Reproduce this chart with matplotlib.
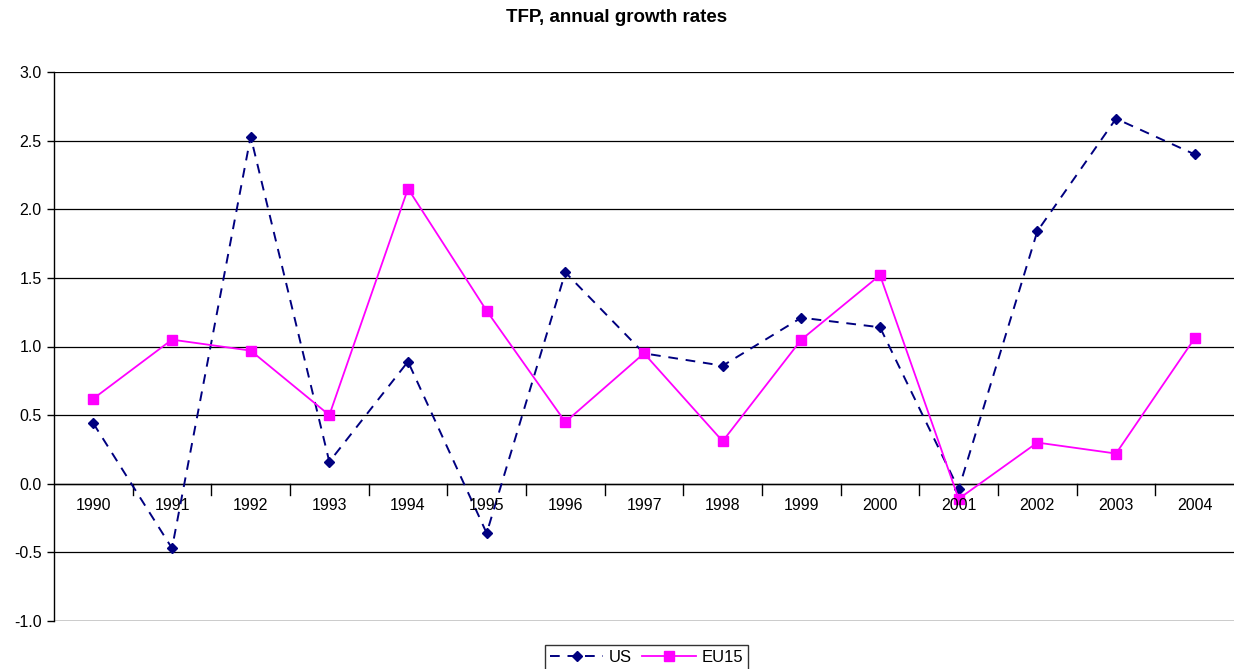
import matplotlib
matplotlib.use("Agg")
import matplotlib.pyplot as plt
import numpy as np

# Daten
years = ["1990", "1991", "1992", "1993", "1994", "1995", "1996", "1997",
         "1998", "1999", "2000", "2001", "2002", "2003", "2004"]
us = [0.44, -0.47, 2.53, 0.16, 0.89, -0.36, 1.54, 0.95,
      0.86, 1.21, 1.14, -0.04, 1.84, 2.66, 2.40]
eu15 = [0.62, 1.05, 0.97, 0.50, 2.15, 1.26, 0.45, 0.95,
        0.31, 1.05, 1.52, -0.11, 0.30, 0.22, 1.06]

plt.rcParams['font.family'] = ['Liberation Sans', 'DejaVu Sans']

fig = plt.figure(figsize=(12.34, 6.69), dpi=100)
ax = fig.add_axes([54/1234, 1 - 621/669, 1 - 54/1234, (621 - 72)/669])

x = np.arange(len(years))
ax.plot(x, us, color="#000080", linestyle=(0, (5, 4)), linewidth=1.4,
        marker="D", markersize=5.5, label="US")
ax.plot(x, eu15, color="#ff00ff", linestyle="-", linewidth=1.3,
        marker="s", markersize=7.5, label="EU15")

ax.set_xlim(-0.5, len(years) - 0.5)
ax.set_ylim(-1.0, 3.0)
ax.set_yticks(np.arange(-1.0, 3.01, 0.5))
ax.set_yticklabels([f"{v:.1f}" for v in np.arange(-1.0, 3.01, 0.5)], fontsize=11.5)
ax.yaxis.grid(True, color="black", linewidth=0.9)
ax.set_axisbelow(True)
ax.tick_params(axis="y", length=5, width=1, direction="out", pad=4)

# x-Achse auf der Nulllinie
ax.set_xticks([])
for s in ["top", "right", "bottom"]:
    ax.spines[s].set_visible(False)
ax.spines["left"].set_linewidth(1)
ax.axhline(-1.0, color="#808080", linewidth=1, zorder=1)
ax.axhline(0, color="black", linewidth=1, zorder=1)
for b in np.arange(0.5, len(years) - 0.5, 1):
    ax.plot([b, b], [0, -0.08], color="black", linewidth=1, zorder=1,
            clip_on=False)
for i, yr in enumerate(years):
    ax.text(i, -0.155, yr, ha="center", va="center", fontsize=11.5)

fig.suptitle("TFP, annual growth rates", y=1 - 18/669, va="center",
             fontsize=13.5, fontweight="bold")

leg = ax.legend(loc="upper center", bbox_to_anchor=(0.5 + 2.5/1180, -24/549),
                ncol=2, frameon=True, fancybox=False, fontsize=12,
                handlelength=3.2, handletextpad=0.35, columnspacing=0.6,
                borderpad=0.3, borderaxespad=0)
leg.get_frame().set_edgecolor("black")
leg.get_frame().set_linewidth(1)

fig.savefig("out.png", dpi=100)
